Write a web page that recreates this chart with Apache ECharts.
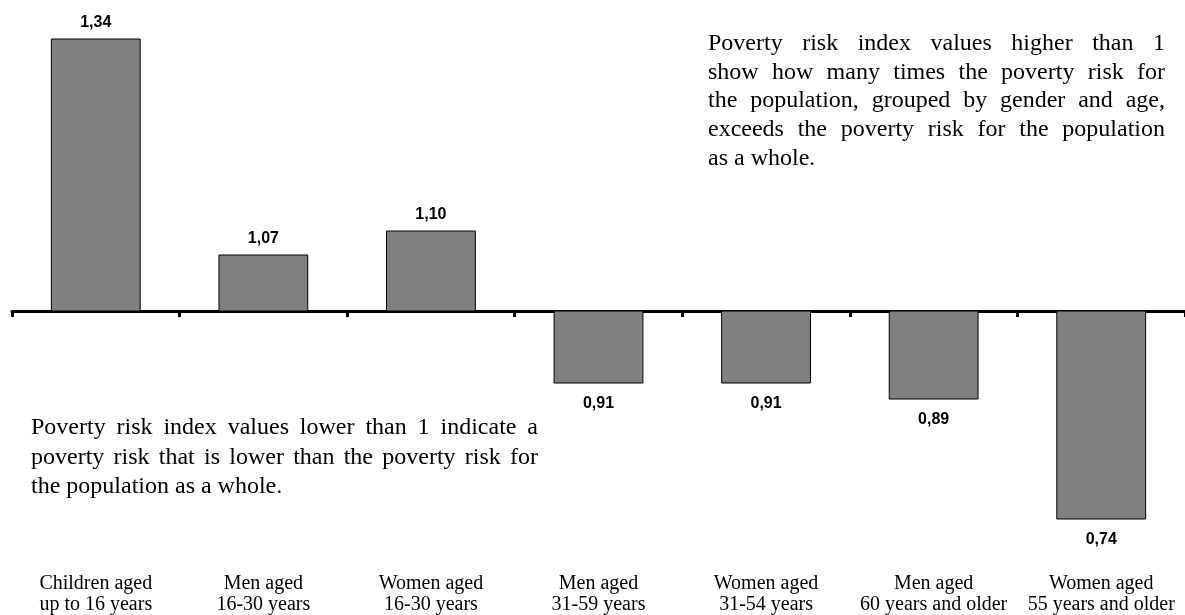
<!DOCTYPE html>
<html>
<head>
<meta charset="utf-8">
<script src="https://cdn.jsdelivr.net/npm/echarts@6/dist/echarts.min.js"></script>
<style>
  html, body { margin: 0; padding: 0; background: #fff; }
  #chart { width: 1185px; height: 615px; }
</style>
</head>
<body>
<div id="chart"></div>
<script>
// Poverty risk index by population group (1 = population as a whole)
const categories = [
  'Children aged\nup to 16 years',
  'Men aged\n16-30 years',
  'Women aged\n16-30 years',
  'Men aged\n31-59 years',
  'Women aged\n31-54 years',
  'Men aged\n60 years and older',
  'Women aged\n55 years and older'
];
const riskIndex = [1.34, 1.07, 1.10, 0.91, 0.91, 0.89, 0.74];
const baseline = 1;

const noteAbove = [
  'Poverty risk index values higher than 1',
  'show how many times the poverty risk for',
  'the population, grouped by gender and age,',
  'exceeds the poverty risk for the population',
  'as a whole.'
];
const noteBelow = [
  'Poverty risk index values lower than 1 indicate a',
  'poverty risk that is lower than the poverty risk for',
  'the population as a whole.'
];

const SERIF = '"Liberation Serif", "Times New Roman", serif';
const noteFont = '24px ' + SERIF;

// Lay out a paragraph with justified lines (last line left-aligned)
function justified(lines, left, right, firstY, step, font) {
  const ctx = document.createElement('canvas').getContext('2d');
  ctx.font = font;
  const out = [];
  lines.forEach((line, k) => {
    const y = firstY + k * step;
    const words = line.split(' ');
    if (k === lines.length - 1 || words.length < 2) {
      out.push({ type: 'text', x: left, y, style: { text: line, font, fill: '#000', verticalAlign: 'middle' } });
      return;
    }
    const widths = words.map(w => ctx.measureText(w).width);
    const gap = (right - left - widths.reduce((a, b) => a + b, 0)) / (words.length - 1);
    let x = left;
    words.forEach((w, j) => {
      out.push({ type: 'text', x, y, style: { text: w, font, fill: '#000', verticalAlign: 'middle' } });
      x += widths[j] + gap;
    });
  });
  return out;
}

const chart = echarts.init(document.getElementById('chart'), null, { renderer: 'canvas' });

const gridLeft = 12, gridWidth = 1174;

chart.setOption({
  animation: false,
  backgroundColor: '#fff',
  grid: [
    // bars
    { left: gridLeft, width: gridWidth, top: 31, height: 520 },
    // axis drawn at the index value of 1
    { left: gridLeft, width: gridWidth, top: 0, height: 311 }
  ],
  xAxis: [
    {
      type: 'category', gridIndex: 0, data: categories,
      axisLine: { show: false }, axisTick: { show: false },
      axisLabel: {
        margin: 22, color: '#000', fontFamily: SERIF, fontSize: 20, lineHeight: 21, interval: 0
      }
    },
    {
      type: 'category', gridIndex: 1, data: categories,
      axisLine: { show: true, lineStyle: { color: '#000', width: 3 } },
      axisTick: { show: true, length: 6, lineStyle: { color: '#000', width: 3 } },
      axisLabel: { show: false }
    }
  ],
  yAxis: [
    { type: 'value', gridIndex: 0, min: 0.7, max: 1.35, show: false },
    { type: 'value', gridIndex: 1, show: false }
  ],
  series: [{
    type: 'custom',
    xAxisIndex: 0, yAxisIndex: 0,
    data: riskIndex.map((v, i) => [i, v]),
    encode: { x: 0, y: 1 },
    renderItem(params, api) {
      const i = api.value(0), v = api.value(1);
      const base = api.coord([i, baseline]);
      const end = api.coord([i, v]);
      const w = api.size([1, 0])[0] * 0.53;
      const top = Math.min(base[1], end[1]);
      const h = Math.abs(base[1] - end[1]);
      const up = v >= baseline;
      return {
        type: 'group',
        children: [
          { type: 'rect', shape: { x: base[0] - w / 2, y: top, width: w, height: h },
            style: { fill: '#808080', stroke: '#000', lineWidth: 1 } },
          { type: 'text', x: base[0], y: up ? end[1] - 16 : end[1] + 21,
            style: { text: v.toFixed(2).replace('.', ','), font: 'bold 16px "Liberation Sans", Arial, sans-serif',
                     fill: '#000', align: 'center', verticalAlign: 'middle' } }
        ]
      };
    }
  }],
  graphic: [
    ...justified(noteAbove, 708, 1165, 44, 28.6, noteFont),
    ...justified(noteBelow, 31, 538, 428, 29.5, noteFont)
  ]
});
</script>
</body>
</html>
